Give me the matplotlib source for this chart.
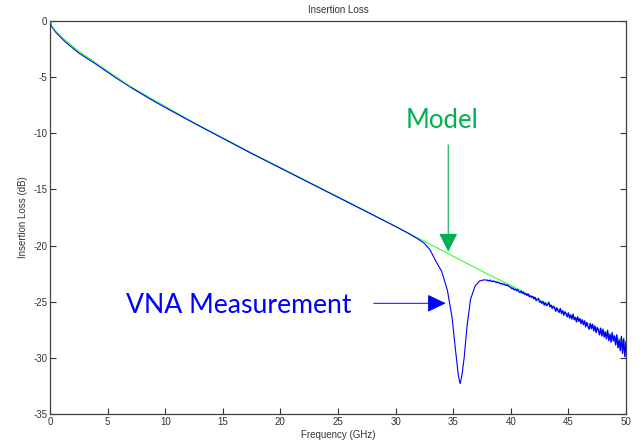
import numpy as np
import matplotlib
matplotlib.use("Agg")
import matplotlib.pyplot as plt

# ---- data ----
model_freq = [0, 0.15, 0.5, 1.3, 2.5, 4, 5.7, 7, 10, 12.5, 15, 17.5, 20, 22.5, 25,
              27.5, 30, 32, 35, 38, 40, 42, 44, 46, 48, 50]
model_db = [0, -0.45, -0.9, -1.7, -2.7, -3.75, -4.95, -5.85, -7.6, -9.05, -10.4,
            -11.75, -13.05, -14.35, -15.65, -16.95, -18.3, -19.35, -20.95, -22.55,
            -23.55, -24.6, -25.6, -26.6, -27.6, -28.6]

meas_freq_main = [0, 0.15, 0.5, 1.3, 2.5, 4, 5.7, 7, 8.7, 10, 12.5, 15, 17.5, 20,
                  22.5, 25, 27.5, 30, 31, 32, 32.5, 33, 33.5, 34, 34.5, 34.9, 35.2,
                  35.45, 35.6, 35.75, 35.95, 36.2, 36.5, 36.9, 37.3, 37.7]
meas_db_main = [0, -0.5, -1.0, -1.84, -2.85, -3.85, -5.05, -5.9, -6.95, -7.7, -9.1,
                -10.45, -11.8, -13.1, -14.4, -15.7, -17.0, -18.3, -18.85, -19.45,
                -19.8, -20.4, -21.4, -22.3, -24.0, -26.4, -29.3, -31.6, -32.3,
                -31.6, -30.0, -27.2, -24.8, -23.6, -23.15, -23.05]

# noisy tail, 38.0 .. 50.0 GHz in 0.1 GHz steps
meas_freq_tail = np.round(np.arange(38.0, 50.0001, 0.1), 1)
meas_db_tail = [
    -23.10, -23.14, -23.08, -23.17, -23.20, -23.15, -23.24, -23.22, -23.30, -23.26,
    -23.33, -23.40, -23.36, -23.46, -23.42, -23.50, -23.55, -23.49, -23.62, -23.66,
    -23.72, -23.85, -23.78, -23.95, -23.88, -24.02, -23.92, -24.10, -24.18, -24.05,
    -24.25, -24.15, -24.35, -24.28, -24.45, -24.30, -24.55, -24.48, -24.62, -24.52,
    -24.75, -24.60, -24.90, -24.82, -24.70, -25.05, -24.95, -25.15, -24.98, -25.30,
    -25.10, -25.35, -25.25, -25.05, -25.45, -25.30, -25.60, -25.40, -25.55, -25.85,
    -25.55, -25.80, -25.95, -25.60, -26.05, -25.80, -26.20, -25.90, -26.10, -26.35,
    -26.00, -26.45, -26.20, -26.55, -26.10, -26.60, -26.40, -26.80, -26.35, -26.75,
    -26.50, -26.95, -26.60, -27.05, -26.70, -27.25, -26.85, -27.20, -27.45, -26.95,
    -27.40, -27.00, -27.60, -27.15, -27.75, -27.30, -27.55, -27.95, -27.35, -28.05,
    -27.45, -28.15, -27.70, -28.30, -27.55, -28.45, -27.90, -28.60, -27.75, -28.50,
    -28.05, -28.85, -27.95, -29.10, -28.40, -29.35, -28.10, -29.60, -28.30, -29.90,
    -28.60]

x_ticks = [0, 5, 10, 15, 20, 25, 30, 35, 40, 45, 50]
y_ticks = [0, -5, -10, -15, -20, -25, -30, -35]

title = "Insertion Loss"
x_label = "Frequency (GHz)"
y_label = "Insertion Loss (dB)"

# ---- figure ----
small_font = ["Liberation Sans Narrow", "Liberation Sans", "DejaVu Sans"]
big_font = ["Lato", "DejaVu Sans"]

fig = plt.figure(figsize=(6.44, 4.46), dpi=100)
ax = fig.add_axes([50 / 644, 1 - 414 / 446, 576 / 644, 393 / 446])

ax.plot(model_freq, model_db, color="#33ff33", lw=0.8, zorder=2)
ax.plot(meas_freq_main + [meas_freq_tail[0]], meas_db_main + [meas_db_tail[0]],
        color="#0000ff", lw=0.8, zorder=3)
ax.plot(meas_freq_tail, meas_db_tail, color="#0000ff", lw=1.0, zorder=3)
ax.plot(model_freq[:8], model_db[:8], color="#33ff33", lw=0.6, zorder=4, alpha=0.6)

ax.set_xlim(0, 50)
ax.set_ylim(-35, 0)
ax.set_xticks(x_ticks)
ax.set_yticks(y_ticks)
ax.set_xticklabels([str(v) for v in x_ticks], family=small_font, fontsize=7, color="#333333")
ax.set_yticklabels([str(v) for v in y_ticks], family=small_font, fontsize=7, color="#333333")
ax.tick_params(direction="in", length=4, width=0.8, color="#333333", pad=2,
               top=False, right=True)
for s in ax.spines.values():
    s.set_color("#404040")
    s.set_linewidth(0.9)

ax.set_title(title, family=small_font, fontsize=7, color="#333333", pad=6)
ax.set_xlabel(x_label, family=small_font, fontsize=7, color="#333333", labelpad=2)
ax.set_ylabel(y_label, family=small_font, fontsize=7, color="#333333", labelpad=4)

# annotations
green = "#00b050"
blue = "#0000ff"
ax.text(34.07, -9.53, "Model", color=green, family=big_font, fontsize=18.5,
        ha="center", va="baseline")
ax.annotate("", xy=(34.57, -20.54), xytext=(34.57, -11.04),
            arrowprops=dict(arrowstyle="-|>,head_length=11.5,head_width=5.8",
                            mutation_scale=1, color=green, lw=0.8,
                            shrinkA=0, shrinkB=0))
ax.text(16.36, -26.0, "VNA Measurement", color=blue, family=big_font, fontsize=19.2,
        ha="center", va="baseline")
ax.annotate("", xy=(34.35, -25.14), xytext=(28.1, -25.14),
            arrowprops=dict(arrowstyle="-|>,head_length=11.5,head_width=5.5",
                            mutation_scale=1, color=blue, lw=0.7,
                            shrinkA=0, shrinkB=0))

fig.savefig("out.png", dpi=100, facecolor="white")
